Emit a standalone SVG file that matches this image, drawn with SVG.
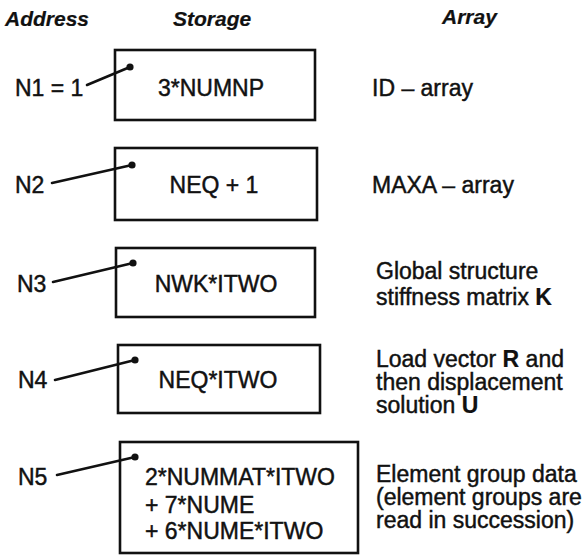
<svg xmlns="http://www.w3.org/2000/svg" width="587" height="559" viewBox="0 0 587 559">
<style>
text{font-family:"Liberation Sans",Arial,sans-serif;font-size:23px;fill:#111;stroke:#111;stroke-width:0.45}
.hdr{font-weight:bold;font-style:italic;font-size:21px;stroke-width:0.2}
.box{fill:#fff;stroke:#111;stroke-width:2.6}
.mid{text-anchor:middle}
.b{font-weight:bold;stroke-width:0.2}
.dot{fill:#111}
.conn line{stroke:#111;stroke-width:2.6;stroke-linecap:round}
</style>
<rect width="587" height="559" fill="#fff"/>
<g id="headers">
<text class="hdr" x="5" y="26">Address</text>
<text class="hdr" x="173" y="26">Storage</text>
<text class="hdr" x="442" y="24">Array</text>
</g>
<g id="node1">
<rect class="box" x="115" y="50" width="200" height="70"/>
<text class="mid" x="211" y="96">3*NUMNP</text>
<circle class="dot" cx="130" cy="67" r="3.6"/>
<text x="15" y="96">N1 = 1</text>
<text x="372" y="96">ID – array</text>
</g>
<g id="node2">
<rect class="box" x="115" y="148" width="202" height="72"/>
<text class="mid" x="214" y="193">NEQ + 1</text>
<circle class="dot" cx="132" cy="165" r="3.6"/>
<text x="15" y="193">N2</text>
<text x="372" y="193">MAXA – array</text>
</g>
<g id="node3">
<rect class="box" x="116" y="248" width="199" height="69"/>
<text class="mid" x="216" y="292">NWK*ITWO</text>
<circle class="dot" cx="133" cy="263" r="3.6"/>
<text x="17" y="292">N3</text>
<text x="376" y="279">Global structure</text>
<text x="376" y="305">stiffness matrix <tspan class="b">K</tspan></text>
</g>
<g id="node4">
<rect class="box" x="118" y="345" width="202" height="68"/>
<text class="mid" x="218" y="388">NEQ*ITWO</text>
<circle class="dot" cx="135" cy="360" r="3.6"/>
<text x="18" y="388">N4</text>
<text x="376" y="367">Load vector <tspan class="b">R</tspan> and</text>
<text x="376" y="390">then displacement</text>
<text x="376" y="413">solution <tspan class="b">U</tspan></text>
</g>
<g id="node5">
<rect class="box" x="120" y="442" width="238" height="111"/>
<text x="145" y="485">2*NUMMAT*ITWO</text>
<text x="145" y="513">+ 7*NUME</text>
<text x="145" y="539">+ 6*NUME*ITWO</text>
<circle class="dot" cx="135" cy="457" r="3.6"/>
<text x="18" y="485">N5</text>
<text x="376" y="482">Element group data</text>
<text x="376" y="505">(element groups are</text>
<text x="376" y="528">read in succession)</text>
</g>
<g id="connectors" class="conn">
<line x1="87" y1="85" x2="130" y2="67"/>
<line x1="52" y1="183" x2="132" y2="165"/>
<line x1="53" y1="282" x2="133" y2="263"/>
<line x1="55" y1="380" x2="135" y2="360"/>
<line x1="57" y1="475" x2="135" y2="457"/>
</g>
</svg>
